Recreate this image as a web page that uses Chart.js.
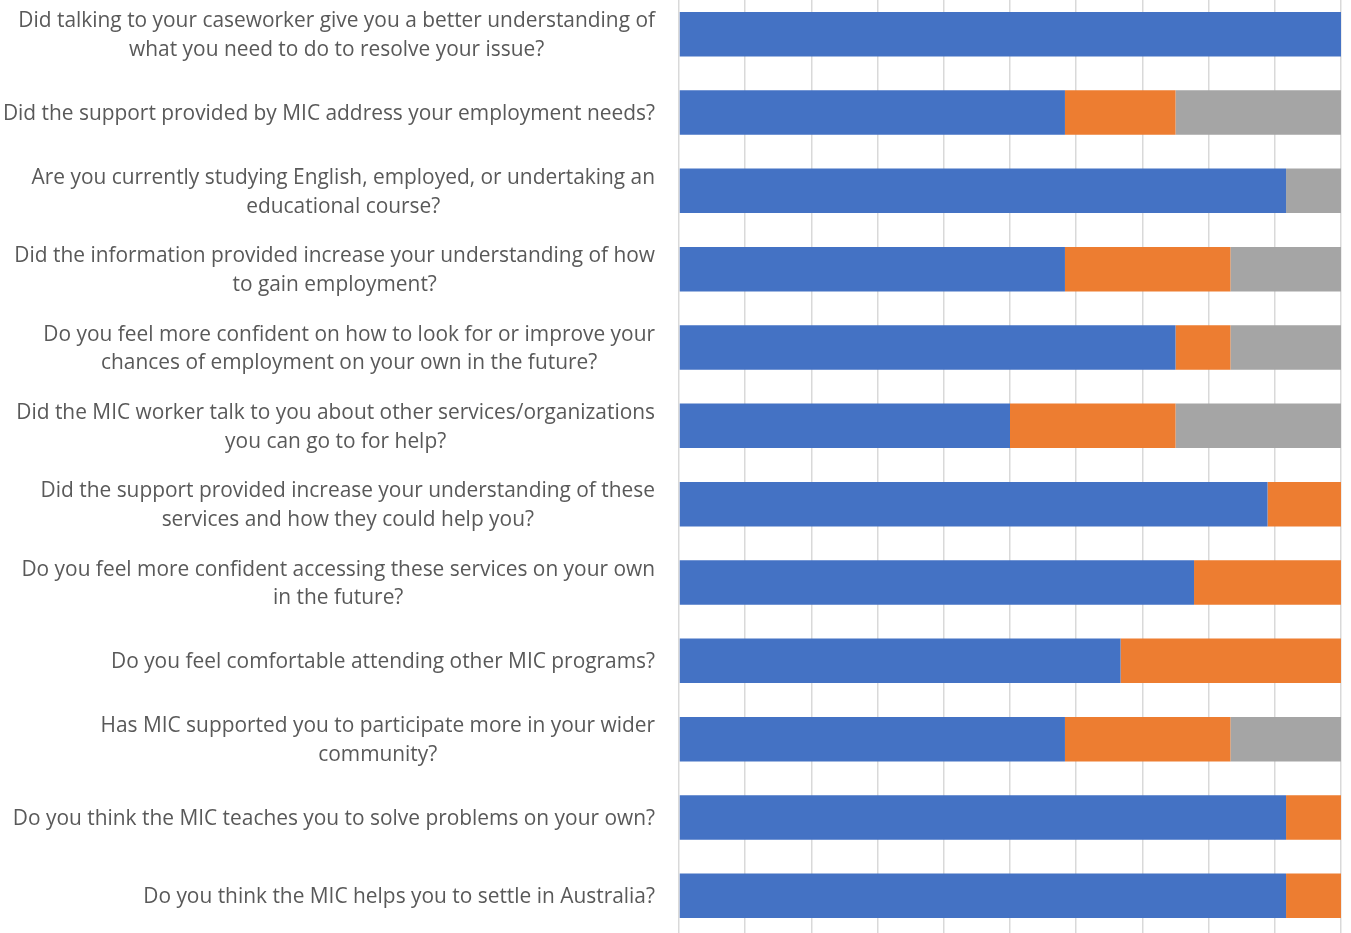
<!DOCTYPE html>
<html>
<head>
<meta charset="utf-8">
<script src="https://cdn.jsdelivr.net/npm/chart.js@4.4.1/dist/chart.umd.min.js"></script>
<style>
  html, body { margin: 0; padding: 0; background: #fff; overflow: hidden; }
  #wrap { position: absolute; left: 0; top: -5px; width: 1351px; height: 940px; }
</style>
</head>
<body>
<div id="wrap"><canvas id="survey" width="1351" height="940"></canvas></div>
<script>
// survey questions, one array of lines per question
var questions = [
  ["Did talking to your caseworker give you a better understanding of", "what you need to do to resolve your issue?"],
  ["Did the support provided by MIC address your employment needs?"],
  ["Are you currently studying English, employed, or undertaking an", "educational course?"],
  ["Did the information provided increase your understanding of how", "to gain employment?"],
  ["Do you feel more confident on how to look for or improve your", "chances of employment on your own in the future?"],
  ["Did the MIC worker talk to you about other services/organizations", "you can go to for help?"],
  ["Did the support provided increase your understanding of these", "services and how they could help you?"],
  ["Do you feel more confident accessing these services on your own", "in the future?"],
  ["Do you feel comfortable attending other MIC programs?"],
  ["Has MIC supported you to participate more in your wider", "community?"],
  ["Do you think the MIC teaches you to solve problems on your own?"],
  ["Do you think the MIC helps you to settle in Australia?"]
];

// share of answers per question (%)
var yes    = [100, 58.3, 91.7, 58.3, 75.0, 50.0, 88.9, 77.8, 66.7, 58.3, 91.7, 91.7];
var no     = [0,   16.7, 0,    25.0, 8.3,  25.0, 11.1, 22.2, 33.3, 25.0, 8.3,  8.3];
var unsure = [0,   25.0, 8.3,  16.7, 16.7, 25.0, 0,    0,    0,    16.7, 0,    0];

var ticks = [0, 10, 20, 30, 40, 50, 60, 70, 80, 90, 100];

var labelFont = "20.9px 'Open Sans'";
var labelColor = "#595959";

// draws each question right aligned, its lines centred on each other
var questionLabels = {
  id: "questionLabels",
  afterDraw: function(chart) {
    var ctx = chart.ctx;
    var yScale = chart.scales.y;
    var right = yScale.right - 24;
    var lineH = 28.8;
    ctx.save();
    ctx.font = labelFont;
    ctx.fillStyle = labelColor;
    ctx.textAlign = "center";
    ctx.textBaseline = "middle";
    questions.forEach(function(lines, i) {
      var widest = 0;
      lines.forEach(function(l) { widest = Math.max(widest, ctx.measureText(l).width); });
      var cx = right - widest / 2;
      var cy = yScale.getPixelForTick(i) + 1.5;
      var y0 = cy - (lines.length - 1) * lineH / 2;
      lines.forEach(function(l, k) { ctx.fillText(l, cx, y0 + k * lineH); });
    });
    ctx.restore();
  }
};

new Chart(document.getElementById("survey"), {
  type: "bar",
  data: {
    labels: questions,
    datasets: [
      { label: "Yes", data: yes, backgroundColor: "#4472C4" },
      { label: "No", data: no, backgroundColor: "#ED7D31" },
      { label: "Unsure", data: unsure, backgroundColor: "#A5A5A5" }
    ]
  },
  options: {
    indexAxis: "y",
    responsive: false,
    animation: false,
    layout: { padding: { left: 0, right: 10, top: 0, bottom: 0 } },
    datasets: { bar: { categoryPercentage: 1, barPercentage: 0.568, borderWidth: 0 } },
    plugins: { legend: { display: false }, tooltip: { enabled: false } },
    scales: {
      x: {
        stacked: true,
        min: 0,
        max: 100,
        afterBuildTicks: function(scale) {
          scale.ticks = ticks.map(function(v) { return { value: v }; });
        },
        ticks: { display: false },
        grid: { color: "#D9D9D9", lineWidth: 1.5, drawTicks: false },
        border: { display: false }
      },
      y: {
        stacked: true,
        ticks: { display: false },
        grid: { display: false, drawTicks: false },
        border: { display: false },
        afterFit: function(scale) { scale.width = 679; }
      }
    }
  },
  plugins: [questionLabels]
});
</script>
</body>
</html>
